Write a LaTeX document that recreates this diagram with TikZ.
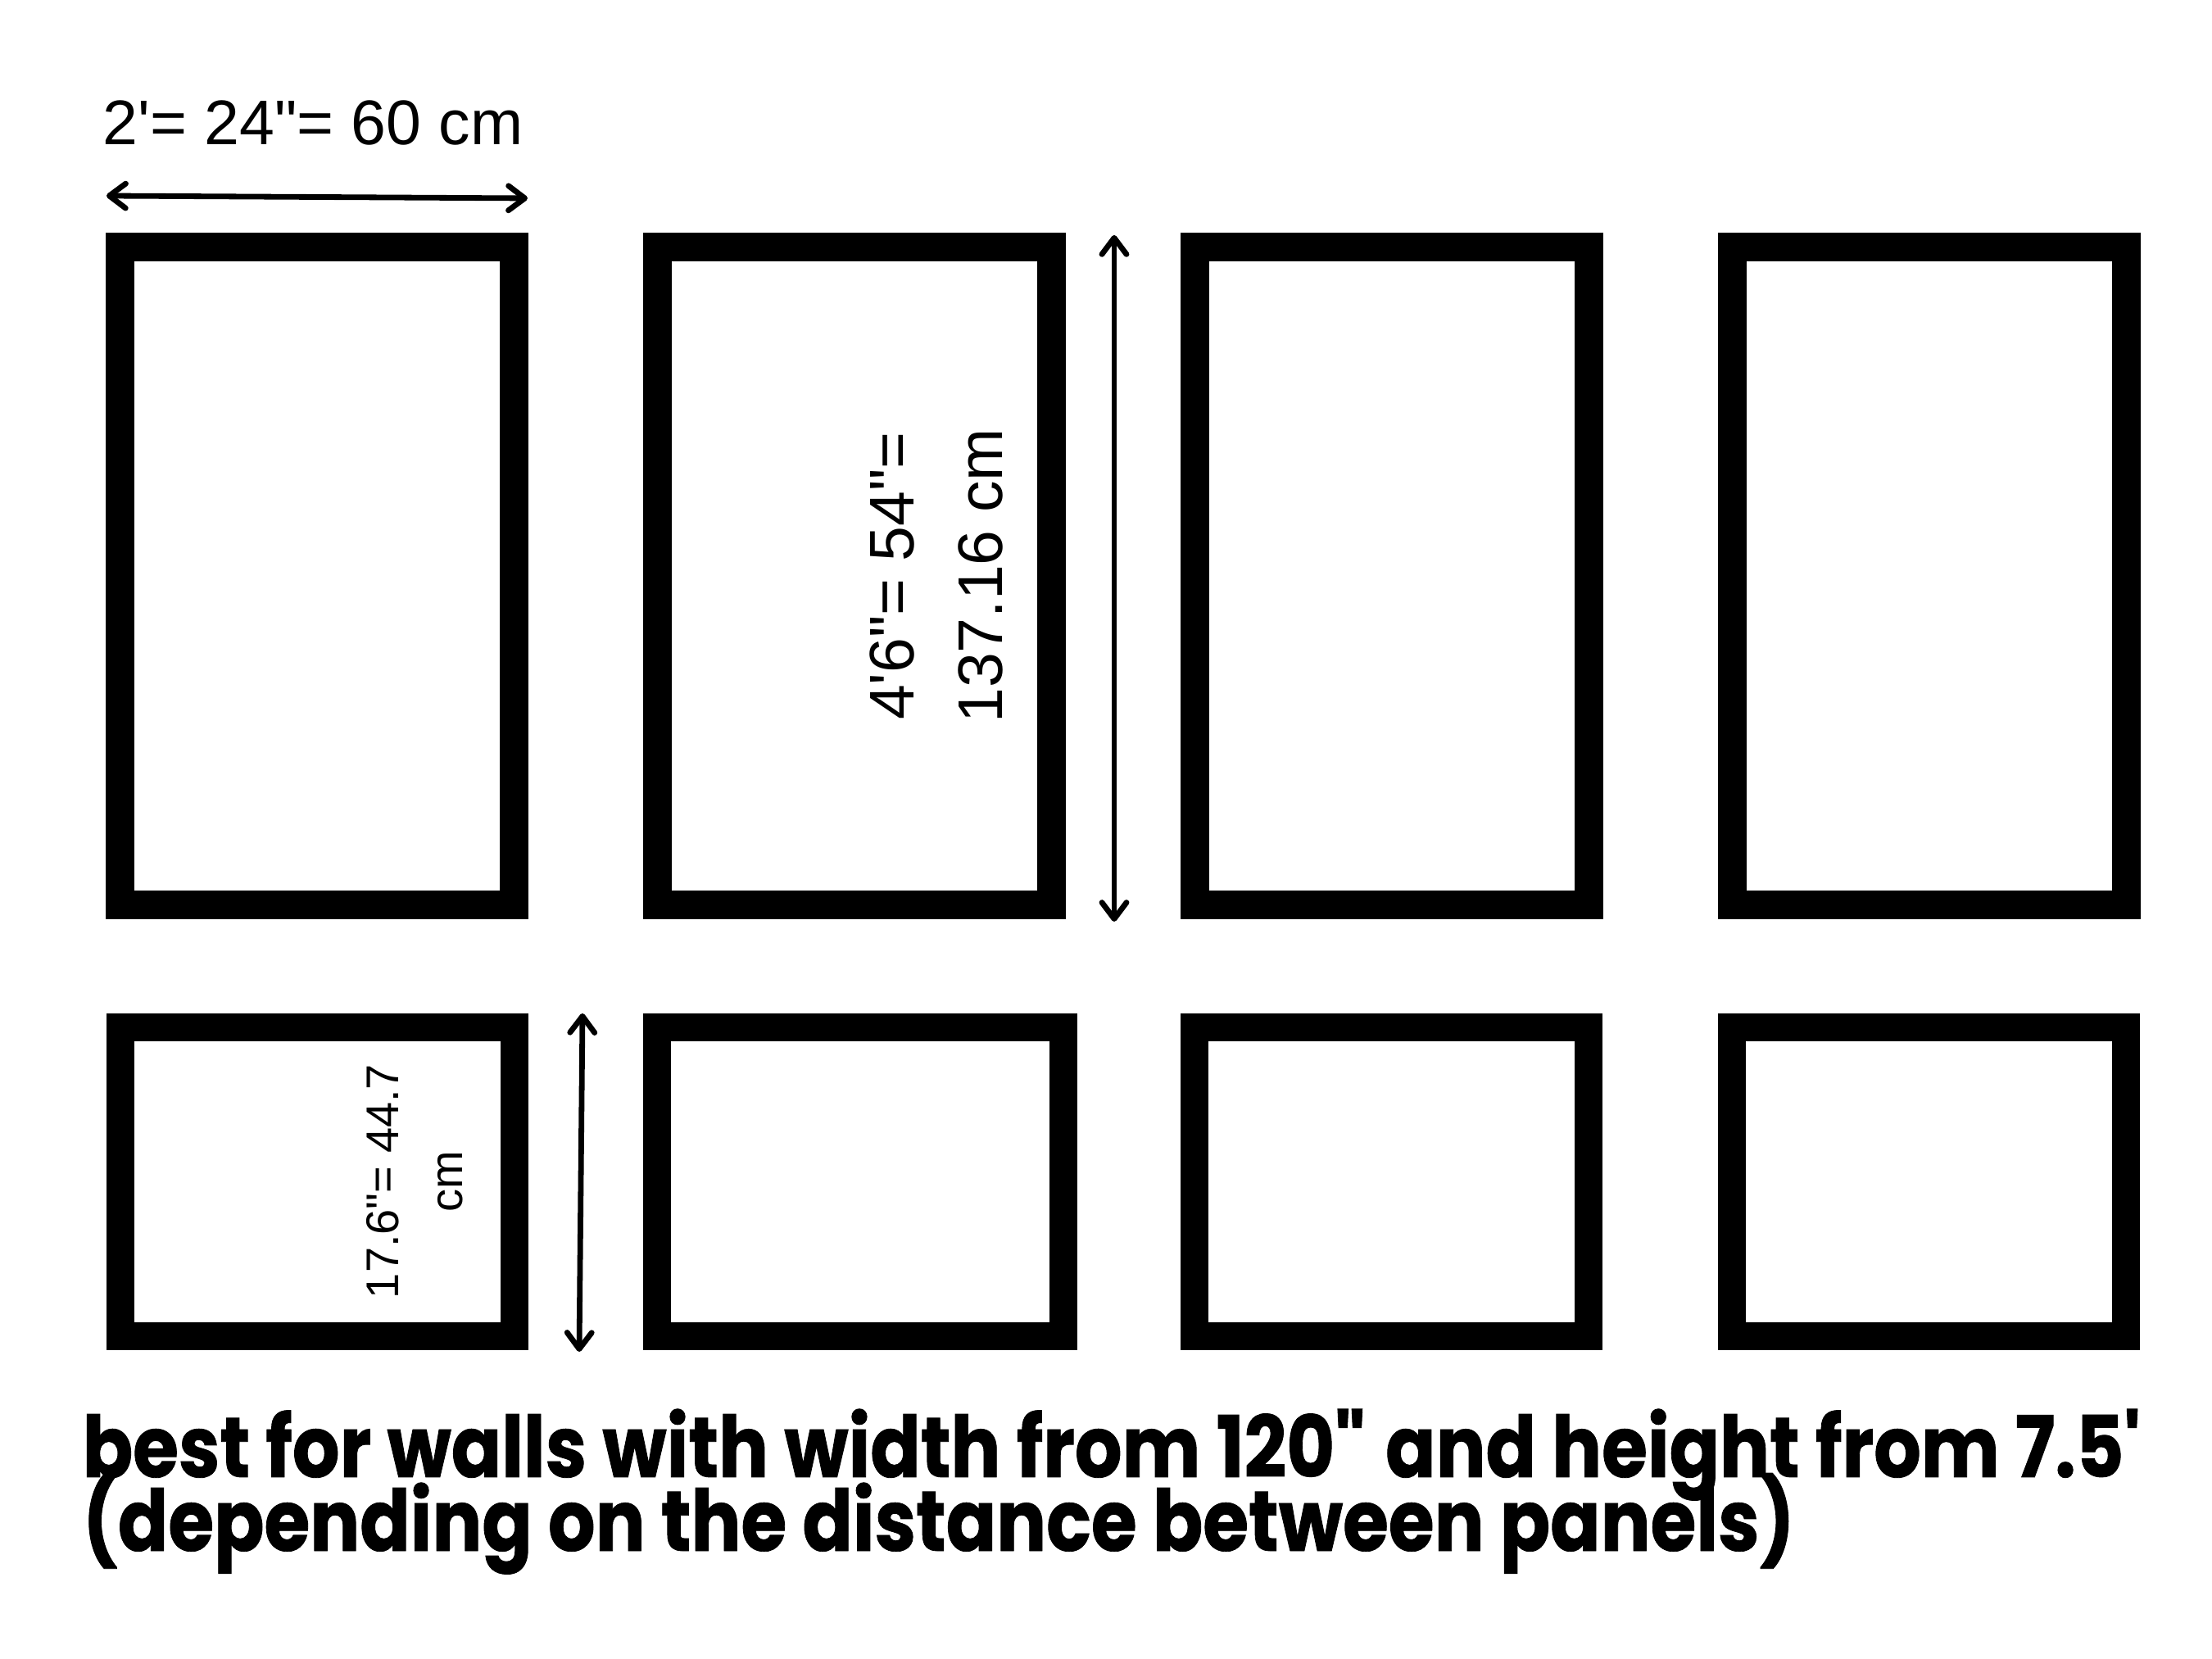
\documentclass[tikz,border=0pt]{standalone}
\usepackage{fontspec}
\setmainfont{Liberation Sans}
\newfontfamily\notefont{Poppins}[FakeStretch=0.87,FakeBold=0.8]
\usetikzlibrary{arrows.meta,positioning}

\begin{document}
\begin{tikzpicture}[>={Straight Barb[round,length=5bp,width=7.5bp]},line join=miter,
  panel/.style={draw=black,line width=8.75bp,inner sep=0pt,minimum width=120.25bp},
  tallpanel/.style={panel,minimum height=200.75bp},
  shortpanel/.style={panel,line width=8.5bp,minimum height=94.25bp},
  dimline/.style={<->,line width=1.7bp,line cap=round},
  bigdim/.style={font=\fontsize{19.25bp}{27bp}\selectfont,inner sep=0pt,align=center},
  smalldim/.style={font=\fontsize{14bp}{19.5bp}\selectfont,inner sep=0pt,align=center},
  note/.style={font=\notefont\bfseries\fontsize{26bp}{22.5bp}\selectfont,inner sep=0pt,anchor=base west}]
  \useasboundingbox (0bp,0bp) rectangle (675bp,506.25bp);
  % Row: tall panels
  \node[tallpanel] (tall1) at (96.75bp,330.5bp) {};
  \node[tallpanel] (tall2) at (260.625bp,330.5bp) {};
  \node[tallpanel] (tall3) at (424.625bp,330.5bp) {};
  \node[tallpanel] (tall4) at (588.625bp,330.5bp) {};
  % Row: short panels
  \node[shortpanel] (short1) at (96.75bp,145.625bp) {};
  \node[shortpanel,minimum width=124bp] (short2) at (262.5bp,145.625bp) {};
  \node[shortpanel] (short3) at (424.625bp,145.625bp) {};
  \node[shortpanel] (short4) at (588.625bp,145.625bp) {};
  % Dimension: panel width
  \coordinate (widthL) at (32.5bp,446.5bp);
  \coordinate (widthR) at (161bp,445.75bp);
  \draw [dimline] (widthL) -- (widthR);
  \node[bigdim,anchor=base west] (widthText) at (31.25bp,462bp) {2\textquotesingle= 24\textquotedbl= 60 cm};
  % Dimension: tall panel height
  \coordinate (tallTop) at (340bp,434.5bp);
  \coordinate (tallBot) at (340bp,225bp);
  \draw [dimline] (tallTop) -- (tallBot);
  \node[bigdim,rotate=90] (tallText) at (285.75bp,330.5bp) {4\textquotesingle6\textquotedbl= 54\textquotedbl=\\137.16 cm};
  % Dimension: short panel height
  \coordinate (shortTop) at (177.75bp,197bp);
  \coordinate (shortBot) at (176.75bp,93.75bp);
  \draw [dimline] (shortTop) -- (shortBot);
  \node[smalldim,rotate=90] (shortText) at (126.5bp,145.75bp) {17.6\textquotedbl= 44.7\\cm};
  % Note
  \node[note] (note1) at (25bp,55.5bp) {best for walls with width from 120\textquotedbl{} and height from 7.5\textquotesingle};
  \node[note] (note2) at ([yshift=-22.5bp]note1.base west) {(depending on the distance between panels)};
\end{tikzpicture}
\end{document}
